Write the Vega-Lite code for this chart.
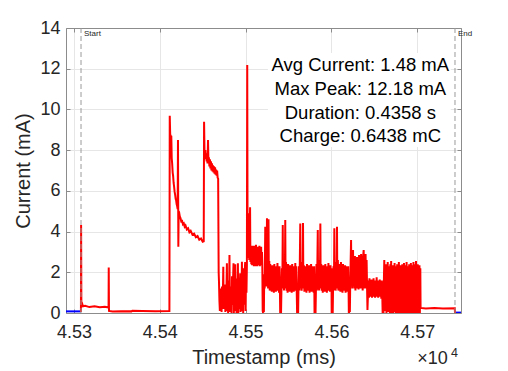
{
"$schema":"https://vega.github.io/schema/vega-lite/v6.json",
"width":395,"height":285,
"autosize":{"type":"none"},
"padding":{"left":66,"top":28,"right":47,"bottom":58},
"background":"white",
"config":{"view":{"stroke":null},"font":"Liberation Sans"},
"datasets":{
"trace":[
{"t":45290.7,"i":0.08,"s":"b1"},{"t":45308.1,"i":0.08,"s":"b1"},
{"t":45744.0,"i":0.02,"s":"b2"},{"t":45751.0,"i":0.02,"s":"b2"},
{"t":45308.1,"i":0.05,"s":"r"},{"t":45308.3,"i":4.32,"s":"r"},{"t":45308.6,"i":0.6,"s":"r"},{"t":45309.0,"i":0.38,"s":"r"},{"t":45309.6,"i":0.45,"s":"r"},{"t":45310.5,"i":0.33,"s":"r"},{"t":45313,"i":0.35,"s":"r"},{"t":45318,"i":0.29,"s":"r"},{"t":45324,"i":0.33,"s":"r"},{"t":45330,"i":0.28,"s":"r"},{"t":45336,"i":0.31,"s":"r"},{"t":45340.3,"i":0.27,"s":"r"},{"t":45340.5,"i":2.24,"s":"r"},{"t":45340.8,"i":0.1,"s":"r"},{"t":45345,"i":0.07,"s":"r"},{"t":45355,"i":0.09,"s":"r"},{"t":45367,"i":0.08,"s":"r"},{"t":45368,"i":0.11,"s":"r"},{"t":45380,"i":0.1,"s":"r"},{"t":45395,"i":0.09,"s":"r"},{"t":45411.2,"i":0.1,"s":"r"},
{"t":45411.6,"i":9.69,"s":"r"},{"t":45412.2,"i":8.6,"s":"r"},{"t":45412.6,"i":8.75,"s":"r"},{"t":45413.0,"i":8.2,"s":"r"},{"t":45413.4,"i":8.7,"s":"r"},{"t":45413.9,"i":7.6,"s":"r"},{"t":45414.4,"i":7.35,"s":"r"},{"t":45415.0,"i":6.9,"s":"r"},{"t":45415.5,"i":6.75,"s":"r"},{"t":45416.1,"i":6.4,"s":"r"},{"t":45416.7,"i":6.2,"s":"r"},{"t":45417.3,"i":5.95,"s":"r"},{"t":45417.9,"i":5.8,"s":"r"},{"t":45418.5,"i":5.6,"s":"r"},{"t":45419.0,"i":5.55,"s":"r"},{"t":45419.6,"i":5.35,"s":"r"},{"t":45420.2,"i":5.25,"s":"r"},{"t":45420.8,"i":5.1,"s":"r"},{"t":45421.2,"i":8.5,"s":"r"},{"t":45421.6,"i":3.26,"s":"r"},{"t":45422.0,"i":5.0,"s":"r"},{"t":45422.5,"i":4.95,"s":"r"},{"t":45423.3,"i":4.75,"s":"r"},{"t":45424.2,"i":4.65,"s":"r"},{"t":45425.0,"i":4.5,"s":"r"},{"t":45426,"i":4.52,"s":"r"},{"t":45427,"i":4.36,"s":"r"},{"t":45428,"i":4.4,"s":"r"},{"t":45429,"i":4.24,"s":"r"},{"t":45430,"i":4.3,"s":"r"},{"t":45431.5,"i":4.1,"s":"r"},{"t":45433,"i":4.16,"s":"r"},{"t":45434.5,"i":3.97,"s":"r"},{"t":45436,"i":4.04,"s":"r"},{"t":45438,"i":3.85,"s":"r"},{"t":45440,"i":3.9,"s":"r"},{"t":45442,"i":3.72,"s":"r"},{"t":45444,"i":3.78,"s":"r"},{"t":45446,"i":3.6,"s":"r"},{"t":45448,"i":3.66,"s":"r"},{"t":45450,"i":3.5,"s":"r"},{"t":45451.2,"i":3.52,"s":"r"},
{"t":45451.6,"i":9.4,"s":"r"},{"t":45452.1,"i":7.95,"s":"r"},{"t":45452.6,"i":7.7,"s":"r"},{"t":45453.1,"i":8.0,"s":"r"},{"t":45453.6,"i":7.55,"s":"r"},{"t":45454.1,"i":7.85,"s":"r"},{"t":45454.6,"i":7.45,"s":"r"},{"t":45455.1,"i":7.75,"s":"r"},{"t":45455.6,"i":7.35,"s":"r"},{"t":45456.2,"i":8.5,"s":"r"},{"t":45456.7,"i":7.4,"s":"r"},{"t":45457.2,"i":7.65,"s":"r"},{"t":45457.8,"i":7.2,"s":"r"},{"t":45458.4,"i":7.55,"s":"r"},{"t":45459.0,"i":7.1,"s":"r"},{"t":45459.6,"i":7.45,"s":"r"},{"t":45460.2,"i":7.0,"s":"r"},{"t":45460.8,"i":7.35,"s":"r"},{"t":45461.4,"i":6.95,"s":"r"},{"t":45462.0,"i":7.25,"s":"r"},{"t":45462.6,"i":6.9,"s":"r"},{"t":45463.2,"i":7.2,"s":"r"},{"t":45463.8,"i":6.85,"s":"r"},{"t":45464.4,"i":7.15,"s":"r"},{"t":45465.0,"i":6.8,"s":"r"},{"t":45465.6,"i":7.05,"s":"r"},{"t":45466.2,"i":6.75,"s":"r"},{"t":45466.8,"i":7.0,"s":"r"},{"t":45467.4,"i":6.65,"s":"r"},{"t":45468.0,"i":6.6,"s":"r"},{"t":45468.6,"i":2.0,"s":"r"},{"t":45469.0,"i":1.5,"s":"r"},
{"t":45469.5,"i":0.6,"s":"r"},{"t":45470.0,"i":0.1,"s":"r"},{"t":45470.5,"i":1.2,"s":"r"},{"t":45471.0,"i":0.4,"s":"r"},{"t":45471.5,"i":1.0,"s":"r"},{"t":45472.0,"i":0.05,"s":"r"},{"t":45472.5,"i":1.3,"s":"r"},{"t":45473.0,"i":0.5,"s":"r"},{"t":45473.5,"i":0.9,"s":"r"},{"t":45474.0,"i":2.27,"s":"r"},{"t":45474.4,"i":0.2,"s":"r"},{"t":45474.9,"i":1.1,"s":"r"},{"t":45475.4,"i":0.3,"s":"r"},{"t":45475.9,"i":1.4,"s":"r"},{"t":45476.4,"i":0.05,"s":"r"},{"t":45476.9,"i":1.0,"s":"r"},{"t":45477.4,"i":0.6,"s":"r"},{"t":45477.8,"i":1.5,"s":"r"},{"t":45478.2,"i":2.44,"s":"r"},{"t":45478.6,"i":0.1,"s":"r"},{"t":45479.1,"i":1.2,"s":"r"},{"t":45479.6,"i":0.0,"s":"r"},{"t":45480.1,"i":1.6,"s":"r"},{"t":45480.6,"i":0.3,"s":"r"},{"t":45481.2,"i":2.85,"s":"r"},{"t":45481.6,"i":0.05,"s":"r"},{"t":45482.1,"i":1.3,"s":"r"},{"t":45482.6,"i":0.2,"s":"r"},{"t":45483.1,"i":1.1,"s":"r"},{"t":45483.6,"i":0.0,"s":"r"},{"t":45484.1,"i":1.8,"s":"r"},{"t":45484.6,"i":0.4,"s":"r"},{"t":45485.1,"i":1.2,"s":"r"},{"t":45485.9,"i":2.44,"s":"r"},{"t":45486.3,"i":0.0,"s":"r"},{"t":45486.8,"i":1.5,"s":"r"},{"t":45487.3,"i":0.2,"s":"r"},{"t":45487.9,"i":2.4,"s":"r"},{"t":45488.4,"i":0.1,"s":"r"},{"t":45488.9,"i":1.3,"s":"r"},{"t":45489.4,"i":0.0,"s":"r"},{"t":45489.9,"i":1.7,"s":"r"},{"t":45490.4,"i":0.3,"s":"r"},{"t":45491.0,"i":2.44,"s":"r"},{"t":45491.5,"i":0.0,"s":"r"},{"t":45492.0,"i":1.4,"s":"r"},{"t":45492.5,"i":0.2,"s":"r"},{"t":45493.0,"i":1.1,"s":"r"},{"t":45493.7,"i":1.95,"s":"r"},{"t":45494.2,"i":0.05,"s":"r"},{"t":45494.7,"i":1.5,"s":"r"},{"t":45495.2,"i":0.3,"s":"r"},{"t":45495.7,"i":2.52,"s":"r"},{"t":45496.2,"i":0.1,"s":"r"},{"t":45496.7,"i":1.6,"s":"r"},{"t":45497.2,"i":0.0,"s":"r"},{"t":45497.7,"i":2.2,"s":"r"},{"t":45498.2,"i":0.4,"s":"r"},{"t":45498.7,"i":1.8,"s":"r"},{"t":45499.5,"i":2.5,"s":"r"},{"t":45500.0,"i":0.1,"s":"r"},{"t":45500.5,"i":2.3,"s":"r"},{"t":45501.0,"i":1.0,"s":"r"},{"t":45501.5,"i":2.4,"s":"r"},
{"t":45501.9,"i":12.18,"s":"r"},{"t":45502.3,"i":3.2,"s":"r"},{"t":45502.8,"i":4.1,"s":"r"},{"t":45503.3,"i":2.7,"s":"r"},{"t":45503.8,"i":4.9,"s":"r"},{"t":45504.2,"i":2.6,"s":"r"},{"t":45504.7,"i":3.4,"s":"r"},{"t":45505.2,"i":5.2,"s":"r"},{"t":45505.6,"i":2.5,"s":"r"},{"t":45506.1,"i":3.3,"s":"r"},{"t":45506.6,"i":2.4,"s":"r"},{"t":45507.1,"i":3.25,"s":"r"},{"t":45507.6,"i":2.35,"s":"r"},{"t":45508.1,"i":3.3,"s":"r"},{"t":45508.6,"i":2.4,"s":"r"},{"t":45509.1,"i":3.15,"s":"r"},{"t":45509.6,"i":2.3,"s":"r"},{"t":45510.1,"i":3.3,"s":"r"},{"t":45510.6,"i":2.45,"s":"r"},{"t":45511.1,"i":3.2,"s":"r"},{"t":45511.6,"i":2.3,"s":"r"},{"t":45512.1,"i":3.35,"s":"r"},{"t":45512.6,"i":2.4,"s":"r"},{"t":45513.1,"i":3.1,"s":"r"},{"t":45513.6,"i":2.3,"s":"r"},{"t":45514.1,"i":3.25,"s":"r"},{"t":45514.6,"i":2.35,"s":"r"},{"t":45515.1,"i":3.2,"s":"r"},{"t":45515.6,"i":2.4,"s":"r"},{"t":45516.1,"i":3.3,"s":"r"},{"t":45516.6,"i":2.3,"s":"r"},{"t":45517.1,"i":3.15,"s":"r"},{"t":45517.6,"i":2.35,"s":"r"},{"t":45518.1,"i":3.25,"s":"r"},{"t":45518.6,"i":2.4,"s":"r"},{"t":45519.1,"i":3.0,"s":"r"},{"t":45519.5,"i":2.2,"s":"r"},
{"t":45519.9,"i":0.1,"s":"r"},{"t":45520.4,"i":0.0,"s":"r"},{"t":45520.9,"i":0.15,"s":"r"},{"t":45521.3,"i":0.05,"s":"r"},{"t":45521.7,"i":1.9,"s":"r"},{"t":45522.2,"i":1.2,"s":"r"},{"t":45522.9,"i":4.24,"s":"r"},{"t":45523.3,"i":1.4,"s":"r"},{"t":45523.8,"i":2.5,"s":"r"},{"t":45524.3,"i":1.3,"s":"r"},{"t":45524.9,"i":4.65,"s":"r"},{"t":45525.3,"i":1.5,"s":"r"},{"t":45525.8,"i":2.6,"s":"r"},{"t":45526.2,"i":1.2,"s":"r"},{"t":45526.7,"i":4.6,"s":"r"},{"t":45527.1,"i":1.3,"s":"r"},{"t":45527.6,"i":2.55,"s":"r"},{"t":45528.1,"i":1.1,"s":"r"},{"t":45528.7,"i":2.4,"s":"r"},{"t":45529.3,"i":1.15,"s":"r"},{"t":45529.9,"i":2.3,"s":"r"},{"t":45530.5,"i":1.05,"s":"r"},{"t":45531.1,"i":2.35,"s":"r"},{"t":45531.7,"i":1.2,"s":"r"},{"t":45532.3,"i":2.2,"s":"r"},{"t":45532.9,"i":1.0,"s":"r"},{"t":45533.5,"i":2.4,"s":"r"},{"t":45534.1,"i":1.15,"s":"r"},{"t":45534.7,"i":2.25,"s":"r"},{"t":45535.3,"i":1.05,"s":"r"},{"t":45535.9,"i":2.3,"s":"r"},{"t":45536.5,"i":1.2,"s":"r"},{"t":45537.1,"i":2.45,"s":"r"},{"t":45537.7,"i":1.1,"s":"r"},{"t":45538.3,"i":2.2,"s":"r"},{"t":45538.9,"i":1.0,"s":"r"},{"t":45539.5,"i":2.3,"s":"r"},{"t":45540.0,"i":1.1,"s":"r"},
{"t":45540.3,"i":0.0,"s":"r"},{"t":45540.8,"i":0.1,"s":"r"},{"t":45541.3,"i":0.0,"s":"r"},{"t":45541.8,"i":1.3,"s":"r"},{"t":45542.3,"i":2.2,"s":"r"},{"t":45542.8,"i":1.2,"s":"r"},{"t":45543.3,"i":4.32,"s":"r"},{"t":45543.7,"i":1.3,"s":"r"},{"t":45544.2,"i":2.5,"s":"r"},{"t":45544.7,"i":1.1,"s":"r"},{"t":45545.2,"i":2.4,"s":"r"},{"t":45545.7,"i":1.3,"s":"r"},{"t":45546.2,"i":4.57,"s":"r"},{"t":45546.6,"i":1.2,"s":"r"},{"t":45547.1,"i":2.5,"s":"r"},{"t":45547.7,"i":1.1,"s":"r"},{"t":45548.3,"i":2.3,"s":"r"},{"t":45548.9,"i":1.0,"s":"r"},{"t":45549.5,"i":2.4,"s":"r"},{"t":45550.1,"i":1.2,"s":"r"},{"t":45550.7,"i":2.2,"s":"r"},{"t":45551.3,"i":1.05,"s":"r"},{"t":45551.9,"i":2.35,"s":"r"},{"t":45552.5,"i":1.15,"s":"r"},{"t":45553.1,"i":2.25,"s":"r"},{"t":45553.7,"i":1.0,"s":"r"},{"t":45554.3,"i":2.4,"s":"r"},{"t":45554.9,"i":1.2,"s":"r"},{"t":45555.5,"i":2.3,"s":"r"},{"t":45556.1,"i":1.05,"s":"r"},{"t":45556.7,"i":2.2,"s":"r"},{"t":45557.3,"i":1.1,"s":"r"},{"t":45557.9,"i":2.45,"s":"r"},{"t":45558.5,"i":1.15,"s":"r"},{"t":45559.1,"i":2.3,"s":"r"},{"t":45559.6,"i":1.0,"s":"r"},
{"t":45560.0,"i":0.0,"s":"r"},{"t":45560.6,"i":0.1,"s":"r"},{"t":45561.2,"i":0.0,"s":"r"},{"t":45561.6,"i":1.2,"s":"r"},{"t":45562.2,"i":2.3,"s":"r"},{"t":45562.7,"i":1.1,"s":"r"},{"t":45563.2,"i":2.6,"s":"r"},{"t":45563.7,"i":4.4,"s":"r"},{"t":45564.1,"i":1.2,"s":"r"},{"t":45564.7,"i":2.4,"s":"r"},{"t":45565.3,"i":1.1,"s":"r"},{"t":45565.9,"i":2.5,"s":"r"},{"t":45566.4,"i":1.3,"s":"r"},{"t":45566.9,"i":4.42,"s":"r"},{"t":45567.3,"i":1.2,"s":"r"},{"t":45567.9,"i":2.35,"s":"r"},{"t":45568.5,"i":1.05,"s":"r"},{"t":45569.1,"i":2.3,"s":"r"},{"t":45569.7,"i":1.15,"s":"r"},{"t":45570.3,"i":2.2,"s":"r"},{"t":45570.9,"i":1.0,"s":"r"},{"t":45571.5,"i":2.4,"s":"r"},{"t":45572.1,"i":1.2,"s":"r"},{"t":45572.7,"i":2.25,"s":"r"},{"t":45573.3,"i":1.1,"s":"r"},{"t":45573.9,"i":2.35,"s":"r"},{"t":45574.5,"i":1.0,"s":"r"},{"t":45575.1,"i":2.2,"s":"r"},{"t":45575.7,"i":1.15,"s":"r"},{"t":45576.3,"i":2.4,"s":"r"},{"t":45576.9,"i":1.05,"s":"r"},{"t":45577.5,"i":2.3,"s":"r"},{"t":45578.1,"i":1.2,"s":"r"},{"t":45578.7,"i":2.2,"s":"r"},{"t":45579.3,"i":1.0,"s":"r"},{"t":45579.9,"i":2.3,"s":"r"},
{"t":45580.3,"i":0.0,"s":"r"},{"t":45580.9,"i":0.1,"s":"r"},{"t":45581.5,"i":0.0,"s":"r"},{"t":45582.0,"i":1.3,"s":"r"},{"t":45582.6,"i":2.4,"s":"r"},{"t":45583.1,"i":1.1,"s":"r"},{"t":45583.6,"i":2.3,"s":"r"},{"t":45584.1,"i":4.08,"s":"r"},{"t":45584.5,"i":1.2,"s":"r"},{"t":45585.1,"i":2.5,"s":"r"},{"t":45585.6,"i":1.1,"s":"r"},{"t":45586.1,"i":2.6,"s":"r"},{"t":45586.6,"i":1.3,"s":"r"},{"t":45587.1,"i":4.4,"s":"r"},{"t":45587.5,"i":1.2,"s":"r"},{"t":45588.1,"i":2.4,"s":"r"},{"t":45588.7,"i":1.1,"s":"r"},{"t":45589.3,"i":2.3,"s":"r"},{"t":45589.9,"i":1.0,"s":"r"},{"t":45590.5,"i":2.35,"s":"r"},{"t":45591.1,"i":1.2,"s":"r"},{"t":45591.7,"i":2.2,"s":"r"},{"t":45592.3,"i":1.05,"s":"r"},{"t":45592.9,"i":2.4,"s":"r"},{"t":45593.5,"i":1.15,"s":"r"},{"t":45594.1,"i":2.25,"s":"r"},{"t":45594.7,"i":1.0,"s":"r"},{"t":45595.3,"i":2.3,"s":"r"},{"t":45595.9,"i":1.2,"s":"r"},{"t":45596.5,"i":2.45,"s":"r"},{"t":45597.1,"i":1.1,"s":"r"},{"t":45597.7,"i":2.2,"s":"r"},{"t":45598.3,"i":1.05,"s":"r"},{"t":45598.9,"i":2.35,"s":"r"},{"t":45599.5,"i":1.1,"s":"r"},{"t":45600.0,"i":2.2,"s":"r"},
{"t":45600.3,"i":0.0,"s":"r"},{"t":45600.9,"i":0.1,"s":"r"},{"t":45601.5,"i":0.0,"s":"r"},{"t":45601.9,"i":1.2,"s":"r"},{"t":45602.4,"i":2.3,"s":"r"},{"t":45602.9,"i":1.1,"s":"r"},{"t":45603.4,"i":4.16,"s":"r"},{"t":45603.8,"i":1.3,"s":"r"},{"t":45604.4,"i":2.5,"s":"r"},{"t":45604.9,"i":1.1,"s":"r"},{"t":45605.5,"i":2.4,"s":"r"},{"t":45606.0,"i":1.2,"s":"r"},{"t":45606.5,"i":4.24,"s":"r"},{"t":45606.9,"i":1.3,"s":"r"},{"t":45607.5,"i":2.6,"s":"r"},{"t":45608.1,"i":1.1,"s":"r"},{"t":45608.7,"i":2.4,"s":"r"},{"t":45609.3,"i":1.2,"s":"r"},{"t":45609.9,"i":2.3,"s":"r"},{"t":45610.5,"i":1.05,"s":"r"},{"t":45611.1,"i":2.5,"s":"r"},{"t":45611.7,"i":1.15,"s":"r"},{"t":45612.3,"i":2.3,"s":"r"},{"t":45612.9,"i":1.0,"s":"r"},{"t":45613.5,"i":2.4,"s":"r"},{"t":45614.1,"i":1.2,"s":"r"},{"t":45614.7,"i":2.25,"s":"r"},{"t":45615.3,"i":1.1,"s":"r"},{"t":45615.9,"i":2.35,"s":"r"},{"t":45616.5,"i":1.0,"s":"r"},{"t":45617.1,"i":2.3,"s":"r"},{"t":45617.7,"i":1.2,"s":"r"},{"t":45618.3,"i":2.2,"s":"r"},{"t":45618.9,"i":1.05,"s":"r"},{"t":45619.5,"i":2.3,"s":"r"},{"t":45620.0,"i":1.1,"s":"r"},
{"t":45620.3,"i":0.0,"s":"r"},{"t":45620.9,"i":0.1,"s":"r"},{"t":45621.5,"i":0.05,"s":"r"},{"t":45621.9,"i":1.4,"s":"r"},{"t":45622.4,"i":2.5,"s":"r"},{"t":45622.9,"i":3.59,"s":"r"},{"t":45623.3,"i":1.3,"s":"r"},{"t":45623.8,"i":2.6,"s":"r"},{"t":45624.3,"i":1.2,"s":"r"},{"t":45624.8,"i":2.8,"s":"r"},{"t":45625.2,"i":3.1,"s":"r"},{"t":45625.6,"i":1.3,"s":"r"},{"t":45626.2,"i":2.7,"s":"r"},{"t":45626.8,"i":1.2,"s":"r"},{"t":45627.4,"i":2.8,"s":"r"},{"t":45628.0,"i":1.1,"s":"r"},{"t":45628.6,"i":2.6,"s":"r"},{"t":45629.2,"i":1.3,"s":"r"},{"t":45629.8,"i":2.75,"s":"r"},{"t":45630.4,"i":1.2,"s":"r"},{"t":45631.0,"i":2.6,"s":"r"},{"t":45631.6,"i":1.15,"s":"r"},{"t":45632.2,"i":2.85,"s":"r"},{"t":45632.8,"i":1.3,"s":"r"},{"t":45633.4,"i":2.7,"s":"r"},{"t":45634.0,"i":1.2,"s":"r"},{"t":45634.6,"i":2.9,"s":"r"},{"t":45635.2,"i":1.25,"s":"r"},{"t":45635.8,"i":2.7,"s":"r"},{"t":45636.4,"i":1.1,"s":"r"},{"t":45637.0,"i":2.8,"s":"r"},{"t":45637.6,"i":3.09,"s":"r"},{"t":45638.0,"i":1.2,"s":"r"},{"t":45638.6,"i":2.75,"s":"r"},{"t":45639.2,"i":1.3,"s":"r"},{"t":45639.8,"i":2.9,"s":"r"},{"t":45640.4,"i":1.2,"s":"r"},{"t":45641.0,"i":2.6,"s":"r"},{"t":45641.6,"i":1.1,"s":"r"},
{"t":45642.0,"i":0.15,"s":"r"},{"t":45642.5,"i":0.8,"s":"r"},{"t":45643.1,"i":1.6,"s":"r"},{"t":45643.7,"i":0.75,"s":"r"},{"t":45644.3,"i":1.7,"s":"r"},{"t":45644.9,"i":0.9,"s":"r"},{"t":45645.5,"i":1.55,"s":"r"},{"t":45646.1,"i":0.8,"s":"r"},{"t":45646.7,"i":1.65,"s":"r"},{"t":45647.3,"i":0.75,"s":"r"},{"t":45647.9,"i":1.5,"s":"r"},{"t":45648.5,"i":0.85,"s":"r"},{"t":45649.1,"i":1.7,"s":"r"},{"t":45649.7,"i":0.8,"s":"r"},{"t":45650.3,"i":1.6,"s":"r"},{"t":45650.9,"i":0.75,"s":"r"},{"t":45651.5,"i":1.55,"s":"r"},{"t":45652.1,"i":0.9,"s":"r"},{"t":45652.7,"i":1.75,"s":"r"},{"t":45653.3,"i":0.8,"s":"r"},{"t":45653.9,"i":1.6,"s":"r"},{"t":45654.5,"i":0.75,"s":"r"},{"t":45655.1,"i":1.5,"s":"r"},{"t":45655.7,"i":0.85,"s":"r"},{"t":45656.3,"i":1.65,"s":"r"},{"t":45656.9,"i":0.8,"s":"r"},{"t":45657.5,"i":1.55,"s":"r"},{"t":45658.1,"i":0.7,"s":"r"},{"t":45658.7,"i":1.6,"s":"r"},{"t":45659.3,"i":0.8,"s":"r"},
{"t":45659.7,"i":0.0,"s":"r"},{"t":45660.2,"i":0.1,"s":"r"},{"t":45660.7,"i":0.0,"s":"r"},{"t":45661.1,"i":1.5,"s":"r"},{"t":45661.6,"i":2.6,"s":"r"},{"t":45662.1,"i":0.1,"s":"r"},{"t":45662.6,"i":2.3,"s":"r"},{"t":45663.1,"i":0.2,"s":"r"},{"t":45663.6,"i":2.4,"s":"r"},{"t":45664.1,"i":0.0,"s":"r"},{"t":45664.6,"i":2.2,"s":"r"},{"t":45665.1,"i":0.3,"s":"r"},{"t":45665.6,"i":2.5,"s":"r"},{"t":45666.1,"i":0.05,"s":"r"},{"t":45666.6,"i":2.3,"s":"r"},{"t":45667.1,"i":0.2,"s":"r"},{"t":45667.6,"i":2.1,"s":"r"},{"t":45668.1,"i":0.0,"s":"r"},{"t":45668.6,"i":2.4,"s":"r"},{"t":45669.1,"i":0.15,"s":"r"},{"t":45669.6,"i":2.55,"s":"r"},{"t":45670.1,"i":0.0,"s":"r"},{"t":45670.6,"i":2.2,"s":"r"},{"t":45671.1,"i":0.1,"s":"r"},{"t":45671.6,"i":2.35,"s":"r"},{"t":45672.1,"i":0.0,"s":"r"},{"t":45672.6,"i":2.1,"s":"r"},{"t":45673.1,"i":0.25,"s":"r"},{"t":45673.6,"i":2.45,"s":"r"},{"t":45674.1,"i":0.05,"s":"r"},{"t":45674.6,"i":2.3,"s":"r"},{"t":45675.1,"i":0.0,"s":"r"},{"t":45675.6,"i":2.2,"s":"r"},{"t":45676.1,"i":0.1,"s":"r"},{"t":45676.6,"i":2.4,"s":"r"},{"t":45677.1,"i":0.0,"s":"r"},{"t":45677.6,"i":2.3,"s":"r"},{"t":45678.1,"i":0.2,"s":"r"},{"t":45678.6,"i":2.5,"s":"r"},{"t":45679.1,"i":0.0,"s":"r"},{"t":45679.6,"i":2.1,"s":"r"},{"t":45680.1,"i":0.1,"s":"r"},{"t":45680.6,"i":2.35,"s":"r"},{"t":45681.1,"i":0.0,"s":"r"},{"t":45681.6,"i":2.2,"s":"r"},{"t":45682.1,"i":0.15,"s":"r"},{"t":45682.6,"i":2.4,"s":"r"},{"t":45683.1,"i":0.0,"s":"r"},{"t":45683.6,"i":2.3,"s":"r"},{"t":45684.1,"i":0.1,"s":"r"},{"t":45684.6,"i":2.45,"s":"r"},{"t":45685.1,"i":0.0,"s":"r"},{"t":45685.6,"i":2.2,"s":"r"},{"t":45686.1,"i":0.2,"s":"r"},{"t":45686.6,"i":2.35,"s":"r"},{"t":45687.1,"i":0.0,"s":"r"},{"t":45687.6,"i":2.5,"s":"r"},{"t":45688.1,"i":0.05,"s":"r"},{"t":45688.6,"i":2.3,"s":"r"},{"t":45689.1,"i":0.0,"s":"r"},{"t":45689.6,"i":2.2,"s":"r"},{"t":45690.1,"i":0.15,"s":"r"},{"t":45690.6,"i":2.4,"s":"r"},{"t":45691.1,"i":0.0,"s":"r"},{"t":45691.6,"i":2.3,"s":"r"},{"t":45692.1,"i":0.1,"s":"r"},{"t":45692.6,"i":2.45,"s":"r"},{"t":45693.1,"i":0.0,"s":"r"},{"t":45693.6,"i":2.2,"s":"r"},{"t":45694.1,"i":0.2,"s":"r"},{"t":45694.6,"i":2.35,"s":"r"},{"t":45695.1,"i":0.0,"s":"r"},{"t":45695.6,"i":2.5,"s":"r"},{"t":45696.1,"i":0.1,"s":"r"},{"t":45696.6,"i":2.3,"s":"r"},{"t":45697.1,"i":0.0,"s":"r"},{"t":45697.6,"i":2.4,"s":"r"},{"t":45698.1,"i":0.15,"s":"r"},{"t":45698.6,"i":2.55,"s":"r"},{"t":45699.1,"i":0.0,"s":"r"},{"t":45699.6,"i":2.3,"s":"r"},{"t":45700.1,"i":0.1,"s":"r"},{"t":45700.6,"i":2.4,"s":"r"},{"t":45701.1,"i":0.0,"s":"r"},{"t":45701.6,"i":2.25,"s":"r"},{"t":45702.1,"i":0.1,"s":"r"},{"t":45702.6,"i":2.35,"s":"r"},{"t":45703.1,"i":0.0,"s":"r"},{"t":45703.6,"i":2.2,"s":"r"},
{"t":45703.9,"i":0.25,"s":"r"},{"t":45710,"i":0.22,"s":"r"},{"t":45720,"i":0.24,"s":"r"},{"t":45730,"i":0.22,"s":"r"},{"t":45743.8,"i":0.23,"s":"r"},{"t":45744.0,"i":0.0,"s":"r"}
],
"markers":[{"t":45308.2,"label":"Start"},{"t":45744.0,"label":"End"}],
"box":[{"x1":45526,"x2":45739,"y1":8.15,"y2":12.77}],
"notes":[
{"x":45633.7,"y":12.18,"label":"Avg Current: 1.48 mA"},
{"x":45633.7,"y":10.99,"label":"Max Peak: 12.18 mA"},
{"x":45633.7,"y":9.84,"label":"Duration: 0.4358 s"},
{"x":45633.7,"y":8.69,"label":"Charge: 0.6438 mC"}
],
"expo":[{"x":45700,"y":-2.28,"label":"×10"}],
"expo2":[{"x":45739.3,"y":-1.98,"label":"4"}]
},
"layer":[
{
"data":{"name":"trace"},
"mark":{"type":"line","strokeWidth":2,"clip":true},
"encoding":{
"x":{"field":"t","type":"quantitative","scale":{"domain":[45290.7,45751],"nice":false,"zero":false},
 "axis":{"orient":"bottom","values":[45300,45400,45500,45600,45700],"labelExpr":"format(datum.value/10000,'.2f')","title":"Timestamp (ms)","grid":true,"gridColor":"#e6e6e6","domainColor":"#8c8c8c","tickColor":"#8c8c8c","tickSize":-4,"labelFontSize":18,"labelColor":"#262626","labelPadding":14,"titleFontSize":20,"titleColor":"#262626","titleFontWeight":"normal","titlePadding":6,"labelFlush":false}},
"y":{"field":"i","type":"quantitative","scale":{"domain":[0,14],"nice":false},
 "axis":{"orient":"left","values":[0,2,4,6,8,10,12,14],"title":"Current (mA)","grid":true,"gridColor":"#e6e6e6","domainColor":"#8c8c8c","tickColor":"#8c8c8c","tickSize":-4,"labelFontSize":18,"labelColor":"#262626","labelPadding":10,"titleFontSize":20,"titleColor":"#262626","titleFontWeight":"normal","titlePadding":6,"labelFlush":false}},
"color":{"field":"s","type":"nominal","scale":{"domain":["r","b1","b2"],"range":["#ff0000","#0000ff","#0000ff"]},"legend":null}
}
},
{
"data":{"name":"box"},
"mark":{"type":"rect","fill":"white"},
"encoding":{
"x":{"field":"x1","type":"quantitative","axis":null},"x2":{"field":"x2"},
"y":{"field":"y1","type":"quantitative","axis":null},"y2":{"field":"y2"}
}
},
{
"data":{"name":"notes"},
"mark":{"type":"text","fontSize":18.5,"color":"#000000","align":"center","baseline":"middle"},
"encoding":{
"x":{"field":"x","type":"quantitative","axis":null},
"y":{"field":"y","type":"quantitative","axis":null},
"text":{"field":"label"}
}
},
{
"data":{"name":"markers"},
"mark":{"type":"rule","color":"#9a9a9a","strokeDash":[5,3],"strokeWidth":1},
"encoding":{
"x":{"field":"t","type":"quantitative",
 "axis":{"orient":"top","values":[45300,45400,45500,45600,45700],"labels":false,"title":null,"grid":false,"domainColor":"#8c8c8c","tickColor":"#8c8c8c","tickSize":-4}},
"y":{"datum":0,"type":"quantitative",
 "axis":{"orient":"right","values":[0,2,4,6,8,10,12,14],"labels":false,"title":null,"grid":false,"domainColor":"#8c8c8c","tickColor":"#8c8c8c","tickSize":-4}},
"y2":{"datum":14}
}
},
{
"data":{"name":"markers"},
"mark":{"type":"text","fontSize":8,"color":"#262626","align":"left","baseline":"middle","dx":3},
"encoding":{
"x":{"field":"t","type":"quantitative","axis":null},
"y":{"datum":13.7,"type":"quantitative","axis":null},
"text":{"field":"label"}
}
},
{
"data":{"name":"expo"},
"mark":{"type":"text","fontSize":18,"color":"#262626","align":"left","baseline":"middle","clip":false},
"encoding":{
"x":{"field":"x","type":"quantitative","axis":null},
"y":{"field":"y","type":"quantitative","axis":null},
"text":{"field":"label"}
}
},
{
"data":{"name":"expo2"},
"mark":{"type":"text","fontSize":12.5,"color":"#262626","align":"left","baseline":"middle","clip":false},
"encoding":{
"x":{"field":"x","type":"quantitative","axis":null},
"y":{"field":"y","type":"quantitative","axis":null},
"text":{"field":"label"}
}
}
],
"resolve":{"axis":{"x":"independent","y":"independent"}}
}
